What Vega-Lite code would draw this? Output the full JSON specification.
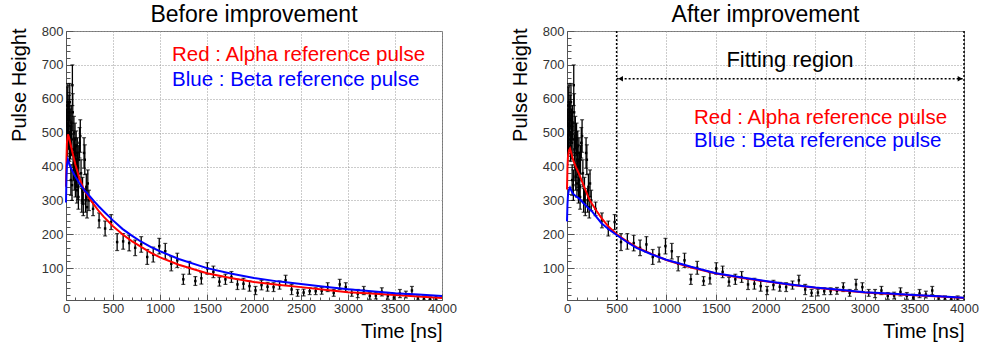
{
  "$schema": "https://vega.github.io/schema/vega-lite/v6.json",
  "background": "white",
  "padding": {"left": 8, "top": 3, "right": 5, "bottom": 5},
  "spacing": 52,
  "config": {
    "view": {"stroke": "#777", "strokeWidth": 1},
    "font": "Liberation Sans"
  },
  "datasets": {
    "pts": [
      {"t":4,"v":450,"lo":405,"hi":495},{"t":8,"v":520,"lo":470,"hi":570},{"t":12,"v":580,"lo":525,"hi":635},{"t":16,"v":480,"lo":430,"hi":530},
      {"t":20,"v":590,"lo":535,"hi":645},{"t":24,"v":540,"lo":490,"hi":590},{"t":28,"v":500,"lo":450,"hi":550},{"t":32,"v":560,"lo":510,"hi":610},
      {"t":36,"v":460,"lo":415,"hi":505},{"t":40,"v":590,"lo":535,"hi":645},{"t":44,"v":520,"lo":470,"hi":570},{"t":48,"v":470,"lo":422,"hi":518},
      {"t":52,"v":360,"lo":315,"hi":405},{"t":56,"v":530,"lo":480,"hi":580},{"t":60,"v":480,"lo":432,"hi":528},{"t":64,"v":345,"lo":300,"hi":390},
      {"t":68,"v":640,"lo":580,"hi":700},{"t":72,"v":560,"lo":505,"hi":615},{"t":76,"v":450,"lo":405,"hi":495},{"t":80,"v":400,"lo":358,"hi":442},
      {"t":84,"v":500,"lo":452,"hi":548},{"t":88,"v":370,"lo":330,"hi":410},{"t":92,"v":440,"lo":395,"hi":485},{"t":96,"v":480,"lo":432,"hi":528},
      {"t":100,"v":350,"lo":310,"hi":390},{"t":104,"v":420,"lo":375,"hi":465},{"t":108,"v":460,"lo":415,"hi":505},{"t":112,"v":380,"lo":338,"hi":422},
      {"t":116,"v":330,"lo":292,"hi":368},{"t":120,"v":440,"lo":395,"hi":485},{"t":124,"v":400,"lo":358,"hi":442},{"t":128,"v":340,"lo":302,"hi":378},
      {"t":132,"v":310,"lo":274,"hi":346},{"t":136,"v":420,"lo":378,"hi":462},{"t":144,"v":470,"lo":425,"hi":515},{"t":152,"v":490,"lo":442,"hi":538},
      {"t":160,"v":380,"lo":340,"hi":420},{"t":168,"v":300,"lo":265,"hi":335},{"t":176,"v":330,"lo":292,"hi":368},{"t":184,"v":290,"lo":255,"hi":325},
      {"t":192,"v":440,"lo":395,"hi":485},{"t":200,"v":420,"lo":376,"hi":464},{"t":208,"v":300,"lo":265,"hi":335},{"t":216,"v":340,"lo":302,"hi":378},
      {"t":224,"v":280,"lo":248,"hi":312},{"t":232,"v":350,"lo":310,"hi":390},{"t":244,"v":300,"lo":270,"hi":330},
      {"t":288,"v":275,"lo":255,"hi":295},{"t":352,"v":241,"lo":219,"hi":263},{"t":416,"v":217,"lo":195,"hi":239},{"t":480,"v":236,"lo":214,"hi":258},
      {"t":544,"v":177,"lo":152,"hi":202},{"t":608,"v":179,"lo":156,"hi":202},{"t":672,"v":174,"lo":151,"hi":197},{"t":736,"v":160,"lo":137,"hi":183},
      {"t":800,"v":170,"lo":147,"hi":193},{"t":864,"v":133,"lo":111,"hi":155},{"t":928,"v":140,"lo":118,"hi":162},{"t":992,"v":165,"lo":142,"hi":188},
      {"t":1056,"v":150,"lo":127,"hi":173},{"t":1120,"v":113,"lo":92,"hi":134},{"t":1184,"v":123,"lo":102,"hi":144},{"t":1248,"v":67,"lo":52,"hi":82},
      {"t":1312,"v":101,"lo":82,"hi":120},{"t":1376,"v":62,"lo":49,"hi":75},{"t":1440,"v":70,"lo":53,"hi":87},{"t":1504,"v":99,"lo":82,"hi":116},
      {"t":1568,"v":89,"lo":72,"hi":106},{"t":1632,"v":60,"lo":47,"hi":73},{"t":1696,"v":67,"lo":52,"hi":82},{"t":1760,"v":74,"lo":58,"hi":90},
      {"t":1824,"v":52,"lo":37,"hi":67},{"t":1888,"v":54,"lo":38,"hi":70},{"t":1952,"v":47,"lo":32,"hi":62},{"t":2016,"v":34,"lo":22,"hi":46},
      {"t":2080,"v":50,"lo":36,"hi":64},{"t":2144,"v":45,"lo":32,"hi":58},{"t":2208,"v":44,"lo":31,"hi":57},{"t":2272,"v":50,"lo":38,"hi":62},
      {"t":2336,"v":64,"lo":49,"hi":79},{"t":2400,"v":37,"lo":22,"hi":52},{"t":2464,"v":27,"lo":17,"hi":37},{"t":2528,"v":28,"lo":18,"hi":38},
      {"t":2592,"v":32,"lo":22,"hi":42},{"t":2656,"v":32,"lo":22,"hi":42},{"t":2720,"v":33,"lo":23,"hi":43},{"t":2784,"v":44,"lo":31,"hi":57},
      {"t":2848,"v":27,"lo":17,"hi":37},{"t":2912,"v":52,"lo":37,"hi":67},{"t":2976,"v":44,"lo":31,"hi":57},{"t":3040,"v":27,"lo":17,"hi":37},
      {"t":3104,"v":25,"lo":13,"hi":37},{"t":3168,"v":34,"lo":22,"hi":46},{"t":3232,"v":18,"lo":8,"hi":28},{"t":3296,"v":19,"lo":9,"hi":29},
      {"t":3360,"v":30,"lo":18,"hi":42},{"t":3424,"v":18,"lo":8,"hi":28},{"t":3488,"v":13,"lo":6,"hi":23},{"t":3552,"v":25,"lo":13,"hi":37},
      {"t":3616,"v":22,"lo":12,"hi":32},{"t":3680,"v":34,"lo":22,"hi":46},{"t":3744,"v":11,"lo":6,"hi":18},{"t":3808,"v":11,"lo":6,"hi":18},
      {"t":3872,"v":10,"lo":6,"hi":15},{"t":3936,"v":11,"lo":6,"hi":18}
    ],
    "curvesL": [
      {"t":0,"v":340,"s":"alpha"},{"t":5,"v":420,"s":"alpha"},{"t":10,"v":470,"s":"alpha"},{"t":20,"v":495,"s":"alpha"},{"t":30,"v":488,"s":"alpha"},
      {"t":45,"v":470,"s":"alpha"},{"t":70,"v":440,"s":"alpha"},{"t":100,"v":405,"s":"alpha"},{"t":140,"v":368,"s":"alpha"},{"t":190,"v":332,"s":"alpha"},
      {"t":250,"v":305,"s":"alpha"},{"t":300,"v":287,"s":"alpha"},{"t":350,"v":268,"s":"alpha"},{"t":400,"v":252,"s":"alpha"},{"t":500,"v":224,"s":"alpha"},
      {"t":600,"v":200,"s":"alpha"},{"t":700,"v":180,"s":"alpha"},{"t":800,"v":163,"s":"alpha"},{"t":900,"v":146,"s":"alpha"},{"t":1000,"v":132,"s":"alpha"},
      {"t":1200,"v":110,"s":"alpha"},{"t":1500,"v":85,"s":"alpha"},{"t":1750,"v":71,"s":"alpha"},{"t":2000,"v":59,"s":"alpha"},{"t":2250,"v":51,"s":"alpha"},
      {"t":2500,"v":44,"s":"alpha"},{"t":2750,"v":36,"s":"alpha"},{"t":3000,"v":29,"s":"alpha"},{"t":3250,"v":25,"s":"alpha"},{"t":3500,"v":21,"s":"alpha"},
      {"t":3750,"v":16,"s":"alpha"},{"t":4000,"v":12,"s":"alpha"},
      {"t":0,"v":294,"s":"beta"},{"t":5,"v":370,"s":"beta"},{"t":10,"v":405,"s":"beta"},{"t":20,"v":420,"s":"beta"},{"t":30,"v":412,"s":"beta"},
      {"t":45,"v":400,"s":"beta"},{"t":70,"v":385,"s":"beta"},{"t":100,"v":370,"s":"beta"},{"t":140,"v":352,"s":"beta"},{"t":190,"v":332,"s":"beta"},
      {"t":250,"v":313,"s":"beta"},{"t":300,"v":297,"s":"beta"},{"t":350,"v":282,"s":"beta"},{"t":400,"v":268,"s":"beta"},{"t":500,"v":241,"s":"beta"},
      {"t":600,"v":216,"s":"beta"},{"t":700,"v":196,"s":"beta"},{"t":800,"v":178,"s":"beta"},{"t":900,"v":163,"s":"beta"},{"t":1000,"v":150,"s":"beta"},
      {"t":1200,"v":127,"s":"beta"},{"t":1500,"v":100,"s":"beta"},{"t":1750,"v":84,"s":"beta"},{"t":2000,"v":71,"s":"beta"},{"t":2250,"v":61,"s":"beta"},
      {"t":2500,"v":53,"s":"beta"},{"t":2750,"v":45,"s":"beta"},{"t":3000,"v":38,"s":"beta"},{"t":3250,"v":32,"s":"beta"},{"t":3500,"v":26,"s":"beta"},
      {"t":3750,"v":22,"s":"beta"},{"t":4000,"v":18,"s":"beta"}
    ],
    "curvesR": [
      {"t":0,"v":332,"s":"alpha"},{"t":5,"v":400,"s":"alpha"},{"t":10,"v":430,"s":"alpha"},{"t":20,"v":448,"s":"alpha"},{"t":30,"v":453,"s":"alpha"},
      {"t":45,"v":438,"s":"alpha"},{"t":60,"v":420,"s":"alpha"},{"t":90,"v":398,"s":"alpha"},{"t":120,"v":379,"s":"alpha"},{"t":170,"v":342,"s":"alpha"},
      {"t":220,"v":306,"s":"alpha"},{"t":250,"v":291,"s":"alpha"},{"t":300,"v":268,"s":"alpha"},{"t":350,"v":247,"s":"alpha"},{"t":420,"v":222,"s":"alpha"},
      {"t":500,"v":200,"s":"alpha"},{"t":600,"v":180,"s":"alpha"},{"t":700,"v":162,"s":"alpha"},{"t":850,"v":142,"s":"alpha"},{"t":1000,"v":124,"s":"alpha"},
      {"t":1250,"v":102,"s":"alpha"},{"t":1500,"v":84,"s":"alpha"},{"t":1750,"v":72,"s":"alpha"},{"t":2000,"v":61,"s":"alpha"},{"t":2250,"v":51,"s":"alpha"},
      {"t":2500,"v":42,"s":"alpha"},{"t":2750,"v":35,"s":"alpha"},{"t":3000,"v":28,"s":"alpha"},{"t":3250,"v":24,"s":"alpha"},{"t":3500,"v":20,"s":"alpha"},
      {"t":3750,"v":16,"s":"alpha"},{"t":4000,"v":12,"s":"alpha"},
      {"t":0,"v":238,"s":"beta"},{"t":5,"v":290,"s":"beta"},{"t":10,"v":315,"s":"beta"},{"t":20,"v":332,"s":"beta"},{"t":30,"v":338,"s":"beta"},
      {"t":45,"v":328,"s":"beta"},{"t":60,"v":320,"s":"beta"},{"t":90,"v":312,"s":"beta"},{"t":120,"v":306,"s":"beta"},{"t":170,"v":291,"s":"beta"},
      {"t":220,"v":276,"s":"beta"},{"t":250,"v":268,"s":"beta"},{"t":300,"v":250,"s":"beta"},{"t":350,"v":232,"s":"beta"},{"t":420,"v":215,"s":"beta"},
      {"t":500,"v":198,"s":"beta"},{"t":600,"v":178,"s":"beta"},{"t":700,"v":160,"s":"beta"},{"t":850,"v":141,"s":"beta"},{"t":1000,"v":125,"s":"beta"},
      {"t":1250,"v":104,"s":"beta"},{"t":1500,"v":85,"s":"beta"},{"t":1750,"v":73,"s":"beta"},{"t":2000,"v":62,"s":"beta"},{"t":2250,"v":52,"s":"beta"},
      {"t":2500,"v":43,"s":"beta"},{"t":2750,"v":36,"s":"beta"},{"t":3000,"v":29,"s":"beta"},{"t":3250,"v":25,"s":"beta"},{"t":3500,"v":21,"s":"beta"},
      {"t":3750,"v":17,"s":"beta"},{"t":4000,"v":13,"s":"beta"}
    ],
    "notesL": [
      {"t":1128,"v":729,"label":"Red : Alpha reference pulse","s":"alpha"},
      {"t":1128,"v":656,"label":"Blue : Beta reference pulse","s":"beta"}
    ],
    "notesR": [
      {"t":1280,"v":544,"label":"Red : Alpha reference pulse","s":"alpha"},
      {"t":1280,"v":476,"label":"Blue : Beta reference pulse","s":"beta"}
    ],
    "fitLines": [{"t":500},{"t":4000}],
    "fitArrow": [{"t":500,"t2":4000,"v":659}],
    "fitHeads": [{"t":540,"v":659,"dir":"left"},{"t":3960,"v":659,"dir":"right"}],
    "fitText": [{"t":2247,"v":715,"label":"Fitting region"}]
  },
  "hconcat": [
    {
      "width": 376,
      "height": 269,
      "title": {"text": "Before improvement", "fontSize": 23, "font": "Liberation Sans", "fontWeight": "normal", "color": "#000", "offset": -2, "anchor": "middle", "frame": "group"},
      "resolve": {"axis": {"x": "independent", "y": "independent"}},
      "layer": [
        {
          "data": {"name": "pts"},
          "mark": {"type": "rule", "color": "#000", "strokeWidth": 1.3, "clip": true},
          "encoding": {
            "x": {"field": "t", "type": "quantitative", "scale": {"domain": [0, 4000], "nice": false, "zero": false},
              "axis": {"orient": "bottom", "title": "Time [ns]", "titleAnchor": "end", "titleFont": "Liberation Sans", "titleFontSize": 20, "titleFontWeight": "normal", "titleColor": "#000", "titlePadding": 6,
                "values": [0,500,1000,1500,2000,2500,3000,3500,4000], "format": "d",
                "labelFont": "Liberation Sans", "labelFontSize": 13, "labelColor": "#333", "labelPadding": 8, "labelFlush": false, "labelOverlap": false,
                "tickSize": -6, "tickColor": "#555", "tickWidth": 1, "domainColor": "#555",
                "grid": true, "gridColor": "#999", "gridDash": [1, 2]}},
            "y": {"field": "lo", "type": "quantitative", "scale": {"domain": [6, 800], "nice": false, "zero": false},
              "axis": {"orient": "left", "title": "Pulse Height", "titleAnchor": "end", "titleAlign": "right", "titleY": -3, "titleFont": "Liberation Sans", "titleFontSize": 20, "titleFontWeight": "normal", "titleColor": "#000", "titlePadding": 12,
                "values": [100,200,300,400,500,600,700,800], "format": "d",
                "labelFont": "Liberation Sans", "labelFontSize": 13, "labelColor": "#333", "labelPadding": 10, "labelOverlap": false, "labelFlush": false,
                "tickSize": -7, "tickColor": "#555", "tickWidth": 1, "domainColor": "#555",
                "grid": true, "gridColor": "#999", "gridDash": [1, 2]}},
            "y2": {"field": "hi"}
          }
        },
        {
          "data": {"name": "pts"},
          "mark": {"type": "tick", "orient": "horizontal", "color": "#000", "size": 4, "thickness": 1.2, "clip": true},
          "encoding": {
            "x": {"field": "t", "type": "quantitative",
              "axis": {"orient": "bottom", "title": null, "labels": false, "domain": false, "grid": false,
                "values": [100,200,300,400,600,700,800,900,1100,1200,1300,1400,1600,1700,1800,1900,2100,2200,2300,2400,2600,2700,2800,2900,3100,3200,3300,3400,3600,3700,3800,3900],
                "tickSize": -3, "tickColor": "#555", "tickWidth": 1}},
            "y": {"field": "lo", "type": "quantitative",
              "axis": {"orient": "left", "title": null, "labels": false, "domain": false, "grid": false,
                "values": [20,40,60,80,120,140,160,180,220,240,260,280,320,340,360,380,420,440,460,480,520,540,560,580,620,640,660,680,720,740,760,780],
                "tickSize": -4, "tickColor": "#555", "tickWidth": 1}}
          }
        },
        {
          "data": {"name": "pts"},
          "mark": {"type": "tick", "orient": "horizontal", "color": "#000", "size": 4, "thickness": 1.2, "clip": true},
          "encoding": {"x": {"field": "t", "type": "quantitative", "axis": null}, "y": {"field": "hi", "type": "quantitative", "axis": null}}
        },
        {
          "data": {"name": "pts"},
          "mark": {"type": "square", "color": "#000", "size": 6, "opacity": 1, "clip": true},
          "encoding": {"x": {"field": "t", "type": "quantitative", "axis": null}, "y": {"field": "v", "type": "quantitative", "axis": null}}
        },
        {
          "data": {"name": "curvesL"},
          "mark": {"type": "line", "strokeWidth": 2},
          "encoding": {
            "x": {"field": "t", "type": "quantitative", "axis": null},
            "y": {"field": "v", "type": "quantitative", "axis": null},
            "color": {"field": "s", "type": "nominal", "scale": {"domain": ["alpha", "beta"], "range": ["#ff0000", "#0000ff"]}, "legend": null}
          }
        },
        {
          "data": {"name": "notesL"},
          "mark": {"type": "text", "align": "left", "baseline": "middle", "fontSize": 20.5, "font": "Liberation Sans"},
          "encoding": {
            "x": {"field": "t", "type": "quantitative", "axis": null},
            "y": {"field": "v", "type": "quantitative", "axis": null},
            "text": {"field": "label"},
            "color": {"field": "s", "type": "nominal", "scale": {"domain": ["alpha", "beta"], "range": ["#ff0000", "#0000ff"]}, "legend": null}
          }
        }
      ]
    },
    {
      "width": 397,
      "height": 269,
      "title": {"text": "After improvement", "fontSize": 23, "font": "Liberation Sans", "fontWeight": "normal", "color": "#000", "offset": -2, "anchor": "middle", "frame": "group"},
      "resolve": {"axis": {"x": "independent", "y": "independent"}},
      "layer": [
        {
          "data": {"name": "pts"},
          "mark": {"type": "rule", "color": "#000", "strokeWidth": 1.3, "clip": true},
          "encoding": {
            "x": {"field": "t", "type": "quantitative", "scale": {"domain": [0, 4000], "nice": false, "zero": false},
              "axis": {"orient": "bottom", "title": "Time [ns]", "titleAnchor": "end", "titleFont": "Liberation Sans", "titleFontSize": 20, "titleFontWeight": "normal", "titleColor": "#000", "titlePadding": 6,
                "values": [0,500,1000,1500,2000,2500,3000,3500,4000], "format": "d",
                "labelFont": "Liberation Sans", "labelFontSize": 13, "labelColor": "#333", "labelPadding": 8, "labelFlush": false, "labelOverlap": false,
                "tickSize": -6, "tickColor": "#555", "tickWidth": 1, "domainColor": "#555",
                "grid": true, "gridColor": "#999", "gridDash": [1, 2]}},
            "y": {"field": "lo", "type": "quantitative", "scale": {"domain": [6, 800], "nice": false, "zero": false},
              "axis": {"orient": "left", "title": "Pulse Height", "titleAnchor": "end", "titleAlign": "right", "titleY": -3, "titleFont": "Liberation Sans", "titleFontSize": 20, "titleFontWeight": "normal", "titleColor": "#000", "titlePadding": 12,
                "values": [100,200,300,400,500,600,700,800], "format": "d",
                "labelFont": "Liberation Sans", "labelFontSize": 13, "labelColor": "#333", "labelPadding": 10, "labelOverlap": false, "labelFlush": false,
                "tickSize": -7, "tickColor": "#555", "tickWidth": 1, "domainColor": "#555",
                "grid": true, "gridColor": "#999", "gridDash": [1, 2]}},
            "y2": {"field": "hi"}
          }
        },
        {
          "data": {"name": "pts"},
          "mark": {"type": "tick", "orient": "horizontal", "color": "#000", "size": 4, "thickness": 1.2, "clip": true},
          "encoding": {
            "x": {"field": "t", "type": "quantitative",
              "axis": {"orient": "bottom", "title": null, "labels": false, "domain": false, "grid": false,
                "values": [100,200,300,400,600,700,800,900,1100,1200,1300,1400,1600,1700,1800,1900,2100,2200,2300,2400,2600,2700,2800,2900,3100,3200,3300,3400,3600,3700,3800,3900],
                "tickSize": -3, "tickColor": "#555", "tickWidth": 1}},
            "y": {"field": "lo", "type": "quantitative",
              "axis": {"orient": "left", "title": null, "labels": false, "domain": false, "grid": false,
                "values": [20,40,60,80,120,140,160,180,220,240,260,280,320,340,360,380,420,440,460,480,520,540,560,580,620,640,660,680,720,740,760,780],
                "tickSize": -4, "tickColor": "#555", "tickWidth": 1}}
          }
        },
        {
          "data": {"name": "pts"},
          "mark": {"type": "tick", "orient": "horizontal", "color": "#000", "size": 4, "thickness": 1.2, "clip": true},
          "encoding": {"x": {"field": "t", "type": "quantitative", "axis": null}, "y": {"field": "hi", "type": "quantitative", "axis": null}}
        },
        {
          "data": {"name": "pts"},
          "mark": {"type": "square", "color": "#000", "size": 6, "opacity": 1, "clip": true},
          "encoding": {"x": {"field": "t", "type": "quantitative", "axis": null}, "y": {"field": "v", "type": "quantitative", "axis": null}}
        },
        {
          "data": {"name": "fitLines"},
          "mark": {"type": "rule", "color": "#000", "strokeWidth": 1.5, "strokeDash": [2, 2]},
          "encoding": {"x": {"field": "t", "type": "quantitative", "axis": null}}
        },
        {
          "data": {"name": "fitArrow"},
          "mark": {"type": "rule", "color": "#000", "strokeWidth": 1.5, "strokeDash": [2, 2]},
          "encoding": {"x": {"field": "t", "type": "quantitative", "axis": null}, "x2": {"field": "t2"}, "y": {"field": "v", "type": "quantitative", "axis": null}}
        },
        {
          "data": {"name": "fitHeads"},
          "mark": {"type": "point", "filled": true, "color": "#000", "size": 30, "opacity": 1},
          "encoding": {
            "x": {"field": "t", "type": "quantitative", "axis": null},
            "y": {"field": "v", "type": "quantitative", "axis": null},
            "shape": {"field": "dir", "type": "nominal", "scale": {"domain": ["left", "right"], "range": ["triangle-left", "triangle-right"]}, "legend": null}
          }
        },
        {
          "data": {"name": "fitText"},
          "mark": {"type": "text", "align": "center", "baseline": "middle", "fontSize": 22, "font": "Liberation Sans", "color": "#000"},
          "encoding": {"x": {"field": "t", "type": "quantitative", "axis": null}, "y": {"field": "v", "type": "quantitative", "axis": null}, "text": {"field": "label"}}
        },
        {
          "data": {"name": "curvesR"},
          "mark": {"type": "line", "strokeWidth": 2},
          "encoding": {
            "x": {"field": "t", "type": "quantitative", "axis": null},
            "y": {"field": "v", "type": "quantitative", "axis": null},
            "color": {"field": "s", "type": "nominal", "scale": {"domain": ["alpha", "beta"], "range": ["#ff0000", "#0000ff"]}, "legend": null}
          }
        },
        {
          "data": {"name": "notesR"},
          "mark": {"type": "text", "align": "left", "baseline": "middle", "fontSize": 20.5, "font": "Liberation Sans"},
          "encoding": {
            "x": {"field": "t", "type": "quantitative", "axis": null},
            "y": {"field": "v", "type": "quantitative", "axis": null},
            "text": {"field": "label"},
            "color": {"field": "s", "type": "nominal", "scale": {"domain": ["alpha", "beta"], "range": ["#ff0000", "#0000ff"]}, "legend": null}
          }
        }
      ]
    }
  ]
}
